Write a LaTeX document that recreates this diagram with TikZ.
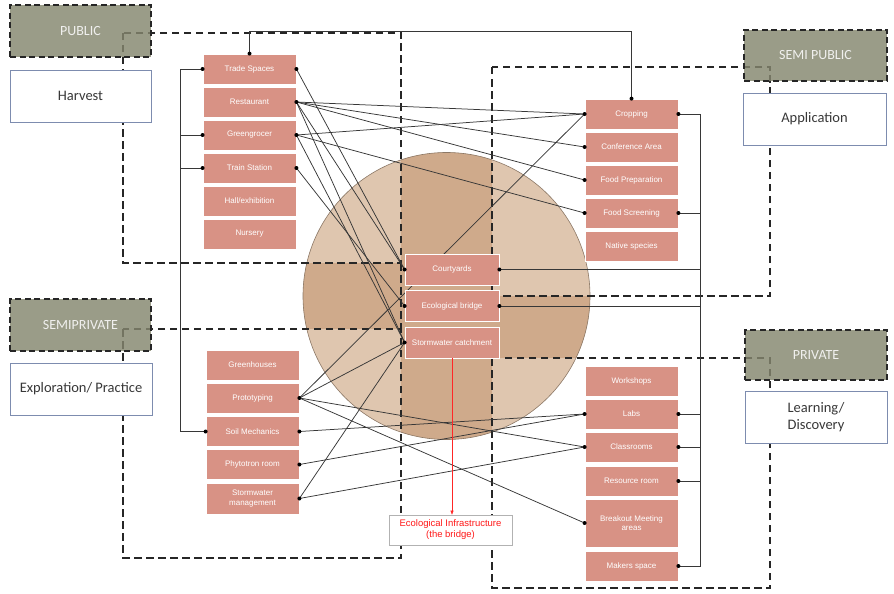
\documentclass[tikz,border=0pt]{standalone}
\usepackage{fontspec}
\setmainfont{Liberation Sans}
\newfontfamily\calfont{Carlito}
\usetikzlibrary{arrows.meta}

\definecolor{pinkc}{RGB}{216,146,133}
\definecolor{olivec}{RGB}{132,134,110}
\definecolor{tanlight}{RGB}{223,198,175}
\definecolor{tandark}{RGB}{207,170,139}
\definecolor{tanedge}{RGB}{140,120,102}
\definecolor{slatec}{RGB}{125,140,175}
\definecolor{linkc}{RGB}{55,55,55}

\pgfdeclarelayer{back}
\pgfsetlayers{back,main}

\tikzset{
  pbox/.style={draw=white, line width=0.8pt, fill=pinkc, text=white,
    font=\fontsize{8}{9.5}\selectfont, align=center, inner sep=0pt,
    minimum width=93pt, minimum height=30pt},
  zone/.style={draw=black!85, line width=1.6pt, dash pattern=on 6pt off 3.5pt,
    fill=olivec, fill opacity=0.82, text opacity=1, text=white!88!olivec,
    font=\calfont\fontsize{14}{17}\selectfont, inner sep=0pt,
    minimum width=141pt, minimum height=52pt},
  role/.style={draw=slatec, line width=0.8pt, fill=white, text=black!78,
    font=\calfont\fontsize{14.5}{17}\selectfont, align=center, inner sep=0pt,
    minimum width=141pt, minimum height=52pt},
  zoneloop/.style={draw=black!85, line width=1.8pt, dash pattern=on 7.5pt off 4.5pt},
  link/.style={draw=linkc, line width=0.75pt},
}

\begin{document}
\begin{tikzpicture}[x=1pt, y=-1pt]
\useasboundingbox (0,0) rectangle (894,594);

% room boxes
\begin{scope}[every node/.style={pbox}]
  \node (trade)  at (249.5,69)  {Trade Spaces};
  \node (rest)   at (249.5,102) {Restaurant};
  \node (green)  at (249.5,135) {Greengrocer};
  \node (train)  at (249.5,168) {Train Station};
  \node (hall)   at (249.5,201) {Hall/exhibition};
  \node (nurs)   at (249.5,234) {Nursery};

  \node (ghouse) at (252.5,365)   {Greenhouses};
  \node (proto)  at (252.5,398)   {Prototyping};
  \node (soil)   at (252.5,431.5) {Soil Mechanics};
  \node (phyto)  at (252.5,464.5) {Phytotron room};
  \node[minimum height=31pt] (stormm) at (252.5,498.5) {Stormwater\\management};

  \node (crop)    at (631.5,114) {Cropping};
  \node (conf)    at (631.5,147) {Conference Area};
  \node (fprep)   at (631.5,180) {Food Preparation};
  \node (fscreen) at (631.5,213) {Food Screening};
  \node (native)  at (631.5,246) {Native species};

  \node (works)    at (631.5,381) {Workshops};
  \node (labs)     at (631.5,414) {Labs};
  \node (class)    at (631.5,447) {Classrooms};
  \node (resource) at (631.5,481) {Resource room};
  \node[minimum height=48pt] (breakout) at (631.5,523) {Breakout Meeting\\areas};
  \node (makers)   at (631.5,566) {Makers space};

  \node[minimum width=94pt, minimum height=31pt] (court)     at (452,269.5) {Courtyards};
  \node[minimum width=94pt, minimum height=31pt] (ecobridge) at (452,306)   {Ecological bridge};
  \node[minimum width=94pt, minimum height=31pt] (stormc)    at (452,342.5) {Stormwater catchment};
\end{scope}

\coordinate (lbus) at (180,0);
\coordinate (rbus) at (700,0);
\coordinate (topy) at (400,31.5);

\begin{pgfonlayer}{back}
  % central circle, darker where it lies outside the four zones
  \fill[tanlight] (446.5,296) circle[radius=143.5pt];
  \begin{scope}
    \clip (446.5,296) circle[radius=143.5pt];
    \fill[tandark] (401,0) rectangle (492,594);
    \fill[tandark] (0,263) rectangle (401,329);
    \fill[tandark] (492,296) rectangle (894,358);
  \end{scope}
  \draw[tanedge, line width=0.6pt] (446.5,296) circle[radius=143.5pt];

  % dashed zone outlines
  \draw[zoneloop] (123,33) rectangle (401,263);
  \draw[zoneloop] (123,329) rectangle (401,558);
  \draw[zoneloop] (401,263) -- (401,329);
  \draw[zoneloop] (492,67) rectangle (770,296);
  \draw[zoneloop] (492,358) rectangle (770,588);

  % left bus
  \draw[link] (trade.west) -- (trade.west -| lbus) -- (soil.west -| lbus) -- (soil.west);
  \draw[link] (green.west) -- (green.west -| lbus);
  \draw[link] (train.west) -- (train.west -| lbus);

  % right bus
  \draw[link] (crop.east) -- (crop.east -| rbus) -- (makers.east -| rbus) -- (makers.east);
  \foreach \n in {fscreen, court, ecobridge, labs, class, resource}
    \draw[link] (\n.east) -- (\n.east -| rbus);

  % top link
  \draw[link] (trade.north) |- (topy) -| (crop.north);

  % cross links
  \draw[link] (trade.east) -- (court.west);
  \foreach \t in {crop, conf, fprep} \draw[link] (rest.east) -- (\t.west);
  \draw[link] (rest.east) -- (court.west);
  \draw[link] (rest.east) -- (stormc.west);
  \foreach \t in {crop, fscreen, stormc} \draw[link] (green.east) -- (\t.west);
  \draw[link] (train.east) -- (ecobridge.west);
  \foreach \t in {crop, stormc, class, breakout} \draw[link] (proto.east) -- (\t.west);
  \draw[link] (soil.east) -- (labs.west);
  \draw[link] (phyto.east) -- (labs.west);
  \draw[link] (stormm.east) -- (stormc.west);
  \draw[link] (stormm.east) -- (class.west);
\end{pgfonlayer}

% link end dots
\foreach \p in {trade.west, green.west, train.west, soil.west, trade.north, crop.north,
  crop.east, fscreen.east, court.east, ecobridge.east, labs.east, class.east,
  resource.east, makers.east, trade.east, rest.east, green.east, train.east,
  proto.east, soil.east, phyto.east, stormm.east, crop.west, conf.west, fprep.west,
  fscreen.west, labs.west, class.west, breakout.west, court.west, ecobridge.west,
  stormc.west}
  \fill[black] (\p) circle[radius=2pt];

% zone labels and their roles
\node[zone] (public) at (80.5,31) {PUBLIC};
\node[role] (harvest) at (80.5,96) {Harvest};
\node[zone, minimum width=143pt, minimum height=51pt] (semipublic) at (815.5,55.5) {SEMI PUBLIC};
\node[role, minimum width=143pt] (application) at (814.5,119) {Application};
\node[zone] (semiprivate) at (80.5,325) {SEMIPRIVATE};
\node[role, minimum width=142pt] (explore) at (81,389) {Exploration/ Practice};
\node[zone, minimum width=142pt, minimum height=50pt] (private) at (816,355) {PRIVATE};
\node[role, minimum width=142pt] (learning) at (816,417) {Learning/\\Discovery};

% ecological infrastructure note
\node[draw=black!30, line width=0.6pt, fill=white, text=red!90!white, align=center,
  font=\fontsize{9.5}{11}\selectfont, inner sep=0pt, minimum width=123pt,
  minimum height=30pt] (ecoinfra) at (450.5,530) {Ecological Infrastructure\\(the bridge)};
\draw[red!85!white, line width=0.45pt, -{Triangle[length=4pt, width=3pt]}]
  (stormc.south) -- (stormc.south |- ecoinfra.north);
\end{tikzpicture}
\end{document}
